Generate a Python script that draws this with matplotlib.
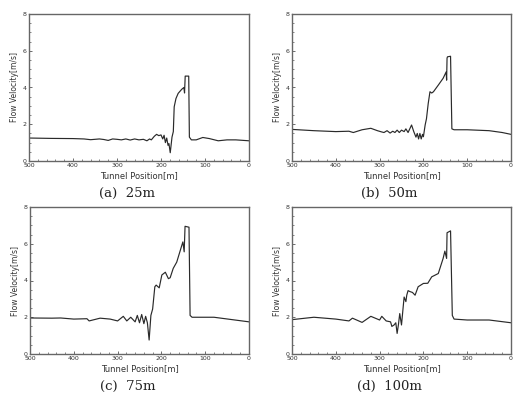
import matplotlib
matplotlib.use("Agg")
import matplotlib.pyplot as plt
from matplotlib.ticker import MultipleLocator

# tunnel position [m] and flow velocity [m/s]
pos_a = [500, 450, 400, 375, 360, 340, 330, 320, 310, 300, 290, 280, 270, 260, 250, 240,
         232, 226, 222, 215, 210, 205, 200,
         196, 193, 190, 187, 184, 182, 179, 175, 172, 170, 166, 161, 153, 148, 146.5,
         145, 137, 135.5, 131, 120, 105, 90, 70, 50, 30, 0]
vel_a = [1.25, 1.23, 1.22, 1.2, 1.16, 1.2, 1.17, 1.12, 1.2, 1.18, 1.15, 1.2, 1.14, 1.2, 1.15, 1.18,
         1.1, 1.2, 1.15, 1.35, 1.45, 1.38, 1.42,
         1.2, 1.4, 1.0, 1.25, 0.85, 0.95, 0.45, 1.3, 1.6, 2.95, 3.4, 3.68, 3.9, 4.0, 3.7,
         4.62, 4.62, 1.3, 1.15, 1.15, 1.28, 1.22, 1.1, 1.15, 1.15, 1.1]

pos_b = [500, 450, 400, 370, 360, 340, 320, 305, 295, 290, 283, 276, 270, 265, 260, 255,
         250, 244, 240, 235, 227,
         222, 217, 214, 211, 208, 205, 202, 200, 196, 193, 189, 185, 181, 177, 166, 155,
         148, 147, 146, 145, 138, 135, 130, 100, 50, 20, 0]
vel_b = [1.72, 1.65, 1.6, 1.62, 1.55, 1.7, 1.78, 1.65, 1.58, 1.55, 1.65, 1.52, 1.62, 1.55, 1.68, 1.55,
         1.68, 1.6, 1.75, 1.55, 1.96,
         1.6, 1.3, 1.5, 1.2, 1.5, 1.2, 1.45, 1.32, 1.96, 2.3, 3.13, 3.77, 3.7, 3.77, 4.13, 4.5,
         4.85, 4.4, 5.6, 5.67, 5.7, 1.75, 1.7, 1.7, 1.65, 1.55, 1.45]

pos_c = [500, 450, 430, 400, 370, 365, 340, 317, 300, 287, 279, 270, 260, 255, 250, 245,
         240, 236, 232, 228, 224, 220, 215, 212, 205, 199, 191, 184, 180, 173, 165, 151,
         148, 146, 137, 134.5, 130, 100, 80, 0]
vel_c = [1.96, 1.95, 1.96, 1.9, 1.92, 1.8, 1.95, 1.9, 1.8, 2.05, 1.8, 2.0, 1.75, 2.1, 1.7, 2.15,
         1.65, 2.05, 1.7, 0.76, 2.1, 2.45, 3.66, 3.75, 3.6, 4.3, 4.45, 4.1, 4.15, 4.66, 5.0, 6.1,
         5.56, 6.95, 6.9, 2.1, 2.0, 2.0, 2.0, 1.75]

pos_d = [500, 450, 400, 370, 362, 340, 320, 300, 295, 285, 275, 272, 267, 263, 260, 257,
         254, 250, 246, 244, 240, 238, 235, 231, 225, 219, 212, 200, 190, 181, 166, 155,
         151, 147, 146, 138, 134, 130, 100, 50, 0]
vel_d = [1.87, 2.0, 1.9, 1.8, 1.95, 1.72, 2.05, 1.85, 2.05, 1.8, 1.75, 1.5, 1.58, 1.7, 1.12, 1.6,
         2.2, 1.58, 2.6, 3.1, 2.85, 3.2, 3.45, 3.4, 3.35, 3.2, 3.66, 3.84, 3.85, 4.2, 4.38, 5.2,
         5.6, 5.2, 6.6, 6.7, 2.1, 1.9, 1.85, 1.85, 1.7]

captions = ["(a)  25m", "(b)  50m", "(c)  75m", "(d)  100m"]

fig = plt.figure(figsize=(5.14, 3.94), dpi=100)
W, H = 514.0, 394.0
boxes = [(29, 14, 249, 161), (292, 14, 511, 161), (30, 207, 249, 354), (292, 207, 511, 354)]
data = [(pos_a, vel_a), (pos_b, vel_b), (pos_c, vel_c), (pos_d, vel_d)]

for (x0, y0, x1, y1), (px, vy), cap in zip(boxes, data, captions):
    ax = fig.add_axes([x0 / W, 1 - y1 / H, (x1 - x0) / W, (y1 - y0) / H])
    ax.plot(px, vy, color="#2a2a2a", lw=0.85)
    ax.set_xlim(500, 0)
    ax.set_ylim(0, 8)
    ax.xaxis.set_major_locator(MultipleLocator(100))
    ax.xaxis.set_minor_locator(MultipleLocator(20))
    ax.yaxis.set_major_locator(MultipleLocator(2))
    ax.yaxis.set_minor_locator(MultipleLocator(0.5))
    ax.tick_params(which="both", direction="in", color="#555555", labelsize=4.5,
                   labelcolor="#333333", pad=1.5)
    ax.tick_params(which="major", length=2.5, width=0.6)
    ax.tick_params(which="minor", length=1.5, width=0.5)
    for s in ax.spines.values():
        s.set_color("#666666")
        s.set_linewidth(1.0)
    ax.set_xlabel("Tunnel Position[m]", fontsize=6, color="#333333", labelpad=2)
    ax.set_ylabel("Flow Velocity[m/s]", fontsize=5.5, color="#333333", labelpad=3)
    fig.text((x0 + x1) / 2 / W - 12 / W, 1 - (y1 + 32) / H, cap, ha="center", va="center",
             fontsize=9.5, family="DejaVu Serif", color="#222222")

fig.savefig("out.png", dpi=100)
